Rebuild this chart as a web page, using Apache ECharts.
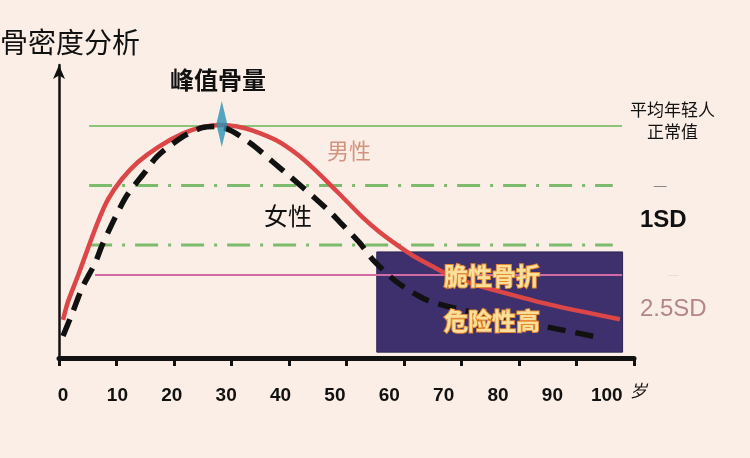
<!DOCTYPE html>
<html>
<head>
<meta charset="utf-8">
<title>骨密度分析</title>
<script src="https://cdn.jsdelivr.net/npm/echarts@6/dist/echarts.min.js"></script>
<style>
  html, body { margin: 0; padding: 0; background: #fbeee6; }
  #chart { width: 750px; height: 458px; }
</style>
</head>
<body>
<div id="chart"></div>
<script>
// 年龄刻度
const ageTicks = [0, 10, 20, 30, 40, 50, 60, 70, 80, 90, 100];

// 男性骨密度曲线 [年龄, 骨密度]
const maleCurve = [
  [0, 13], [0.9, 19.1], [2.8, 28.3], [4.6, 37.5], [6.4, 46.4], [8.3, 54.2],
  [10.8, 61], [13.8, 66.9], [17.5, 72], [21.9, 76.5], [25.6, 78.8],
  [29.2, 79.5], [32, 79], [34.9, 77.6], [39.3, 74.2], [43, 69.6], [46, 64.8],
  [49.1, 59.2], [52.2, 53.4], [55.1, 48], [58.2, 43], [61.4, 38.6],
  [64.3, 35], [68, 31.2], [71.1, 28.2], [75, 25.5], [80, 22.8],
  [89.5, 18.2], [102.4, 13.2]
];

// 女性骨密度曲线
const femaleCurve = [
  [0, 7.5], [1.8, 15.7], [3.5, 23.9], [5.9, 32.4], [7.2, 38.5], [9.6, 48],
  [11.8, 55.6], [15.1, 63.5], [17.3, 68.8], [21.9, 75.4], [25.6, 78.6],
  [28.4, 79], [31, 77.5], [34.9, 72.7], [38.6, 66.9], [42.1, 61.4],
  [46.3, 54.6], [49.4, 49.3], [50.9, 46.4], [54.6, 39.2], [57, 33.5],
  [61.4, 25.9], [66.9, 19.8], [74.8, 15.8], [89, 10.6], [99.1, 6.8]
];

// 参考线：正常值 / 1SD 上下 / 2.5SD
const refNames = ["正常值", "1SD上", "1SD下", "2.5SD"];
const refLevels = [79.2, 58.9, 38.6, 28.3];
const refFrom = [4.8, 4.8, 4.8, 5.9];
const refTo = [102.8, 101.1, 101.1, 102.8];

// 峰值骨量
const peakPoint = [29.2, 79.9];

// 脆性骨折高危区 [左下, 右上]
const riskZone = [[57.7, 2], [102.9, 36.2]];

const refStyles = [
  { color: "#8cc57a", width: 2, type: "solid" },
  { color: "#7dbb6c", width: 3, type: [23, 10, 3, 10] },
  { color: "#7dbb6c", width: 3, type: [23, 10, 3, 10] },
  { color: "#d26aa6", width: 2, type: "solid" }
];

const chart = echarts.init(document.getElementById("chart"));

const refSeries = refLevels.map((lv, i) => ({
  name: refNames[i],
  type: "line",
  xAxisIndex: 0,
  yAxisIndex: 0,
  data: [[refFrom[i], lv], [refTo[i], lv]],
  showSymbol: false,
  silent: true,
  z: 3,
  lineStyle: refStyles[i]
}));

const txt = (x, y, text, style) => ({
  type: "text",
  left: x,
  top: y,
  z: 100,
  style: Object.assign({ text: text, fill: "#111", fontFamily: "Noto Sans CJK SC" }, style)
});

const option = {
  backgroundColor: "#fbeee6",
  animation: false,
  grid: [
    { left: 63, top: 65, width: 571, height: 293 },
    { left: 59, top: 65, width: 575, height: 293 }
  ],
  xAxis: [
    {
      gridIndex: 0,
      type: "value",
      min: 0,
      max: 105,
      interval: 10,
      axisLine: { show: false },
      axisTick: { show: false },
      splitLine: { show: false },
      axisLabel: {
        margin: 28,
        color: "#111",
        fontSize: 19,
        fontWeight: "bold",
        fontFamily: "Liberation Sans, Arial",
        formatter: (v) => (ageTicks.indexOf(v) >= 0 ? v : "")
      }
    },
    {
      gridIndex: 1,
      type: "value",
      min: 0,
      max: 100,
      interval: 10,
      axisLine: { lineStyle: { color: "#111", width: 5 } },
      axisTick: { length: 8, lineStyle: { color: "#111", width: 3 } },
      axisLabel: { show: false },
      splitLine: { show: false }
    }
  ],
  yAxis: [
    { gridIndex: 0, type: "value", min: 0, max: 100, show: false },
    {
      gridIndex: 1,
      type: "value",
      min: 0,
      max: 100,
      axisLine: {
        show: true,
        symbol: ["none", "arrow"],
        symbolSize: [9, 14],
        lineStyle: { color: "#111", width: 2.5 }
      },
      axisTick: { show: false },
      axisLabel: { show: false },
      splitLine: { show: false }
    }
  ],
  series: [
    {
      name: "高危区",
      type: "line",
      data: [],
      z: 1,
      markArea: {
        silent: true,
        itemStyle: { color: "#3d306d", borderColor: "#2c2350", borderWidth: 1 },
        data: [[{ coord: riskZone[0] }, { coord: riskZone[1] }]]
      }
    },
    ...refSeries,
    {
      name: "男性",
      type: "line",
      data: maleCurve,
      smooth: 0.25,
      showSymbol: false,
      z: 5,
      lineStyle: { color: "#dc4646", width: 4.5 }
    },
    {
      name: "女性",
      type: "line",
      data: femaleCurve,
      smooth: 0.25,
      showSymbol: false,
      z: 6,
      lineStyle: { color: "#111", width: 5.5, type: [18, 10] }
    },
    {
      name: "峰值骨量",
      type: "scatter",
      data: [peakPoint],
      symbol: "diamond",
      symbolSize: [11, 46],
      z: 10,
      itemStyle: { color: "#2b92b6" }
    }
  ],
  graphic: [
    txt(0, 28, "骨密度分析", { fontSize: 28 }),
    txt(170, 68, "峰值骨量", { fontSize: 24, fontWeight: "bold" }),
    txt(327, 140, "男性", { fontSize: 22, fill: "#d4937f" }),
    txt(264, 204, "女性", { fontSize: 24 }),
    txt(630, 101, "平均年轻人", { fontSize: 17 }),
    txt(647, 123, "正常值", { fontSize: 17 }),
    txt(653, 177, "—", { fontSize: 16, fill: "#888" }),
    txt(640, 208, "1SD", { fontSize: 24, fontWeight: "bold", fontFamily: "Liberation Sans, Arial" }),
    txt(668, 268, "—", { fontSize: 12, fill: "#e6d9d2" }),
    txt(640, 297, "2.5SD", { fontSize: 24, fill: "#b3858d", fontFamily: "Liberation Sans, Arial" }),
    txt(630, 382, "岁", { fontSize: 17, fontStyle: "italic" }),
    txt(443, 263, "脆性骨折", {
      fontSize: 24, fontWeight: "bold", fill: "#fae09a",
      stroke: "#e48a35", lineWidth: 2
    }),
    txt(443, 308, "危险性高", {
      fontSize: 24, fontWeight: "bold", fill: "#fae09a",
      stroke: "#e48a35", lineWidth: 2
    })
  ]
};

chart.setOption(option);
</script>
</body>
</html>
